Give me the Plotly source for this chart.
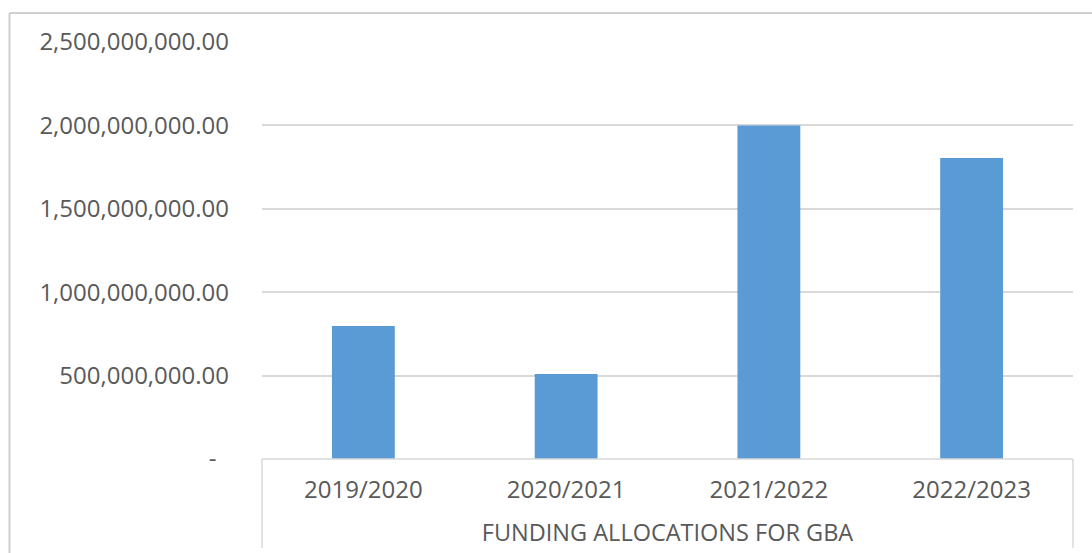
import plotly.graph_objects as go

# Funding allocations per financial year
years = ["2019/2020", "2020/2021", "2021/2022", "2022/2023"]
allocations = [797_000_000, 510_000_000, 2_000_000_000, 1_805_000_000]

# Value axis ticks
tick_values = [0, 500_000_000, 1_000_000_000, 1_500_000_000, 2_000_000_000, 2_500_000_000]
tick_labels = ["-\u00a0\u00a0", "500,000,000.00", "1,000,000,000.00", "1,500,000,000.00",
               "2,000,000,000.00", "2,500,000,000.00"]
axis_title = "FUNDING ALLOCATIONS FOR GBA"

BAR = "#5b9bd5"
TEXT = "#595959"
GRID = "#d9d9d9"
FONT = "Open Sans"

W, H = 1092, 553
L, R, T, B = 262, 19, 42, 94
pw, ph = W - L - R, H - T - B


def dx(px):
    return (px - L) / pw


def dy(py):
    return (H - B - py) / ph


fig = go.Figure(go.Bar(x=years, y=allocations, marker_color=BAR, marker_line_width=0))

fig.update_layout(
    width=W, height=H,
    margin=dict(l=L, r=R, t=T, b=B, pad=0),
    paper_bgcolor="white", plot_bgcolor="white",
    bargap=0.69,
    showlegend=False,
    font=dict(family=FONT, color=TEXT),
    xaxis=dict(
        type="category",
        showgrid=False, zeroline=False, showline=False,
        ticks="", tickfont=dict(size=24, color=TEXT),
        ticklabelstandoff=14,
        title=dict(text=axis_title, font=dict(size=23.5, color=TEXT), standoff=20),
    ),
    yaxis=dict(
        range=[0, 2_500_000_000],
        tickvals=tick_values, ticktext=tick_labels,
        tickfont=dict(size=24, color=TEXT),
        ticklabelstandoff=32,
        showgrid=True, gridcolor=GRID, gridwidth=1.5,
        zeroline=False, showline=False, ticks="",
    ),
)

line = dict(color="#d0d0d0", width=2)
box = dict(color="#d9d9d9", width=1.5)
shapes = [
    # outer chart frame (top and left edges)
    dict(type="line", xref="x domain", yref="y domain", x0=dx(9.5), x1=dx(W + 5), y0=dy(13), y1=dy(13), line=line),
    dict(type="line", xref="x domain", yref="y domain", x0=dx(9.5), x1=dx(9.5), y0=dy(13), y1=dy(H + 5), line=line),
    # category axis box
    dict(type="line", xref="x domain", yref="y domain", x0=0, x1=1, y0=0, y1=0, line=box),
    dict(type="line", xref="x domain", yref="y domain", x0=0, x1=0, y0=0, y1=dy(548), line=box),
    dict(type="line", xref="x domain", yref="y domain", x0=1, x1=1, y0=0, y1=dy(548), line=box),
]
fig.update_layout(shapes=shapes)

fig.write_html("out.html")
